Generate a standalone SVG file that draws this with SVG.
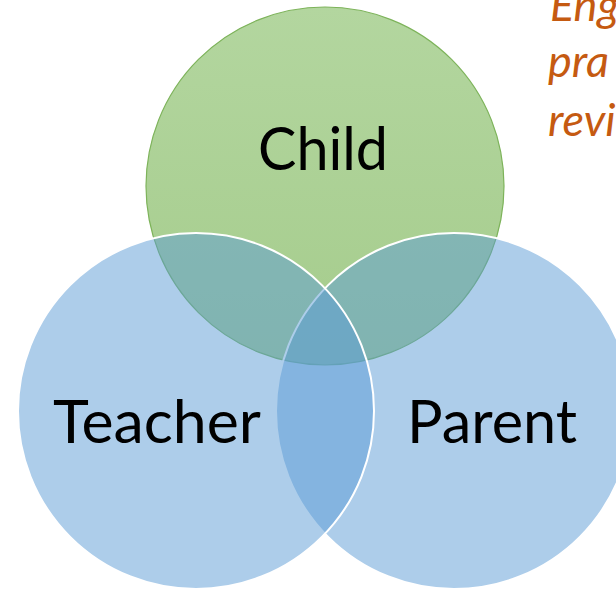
<svg xmlns="http://www.w3.org/2000/svg" width="616" height="594" viewBox="0 0 616 594">
  <style>
    .label { font-family: "Lato", "Liberation Sans", sans-serif; font-size: 60px; fill: #000000; }
    .blue { fill: #5B9BD5; fill-opacity: 0.5; stroke: #FFFFFF; stroke-width: 2; }
    .green { fill: url(#greenGrad); stroke: #7DB35A; stroke-width: 1.2; }
    .note { font-family: "Lato", "Liberation Sans", sans-serif; font-style: italic; font-size: 45px; fill: #C55A11; }
  </style>
  <defs>
    <linearGradient id="greenGrad" x1="0" y1="0" x2="0" y2="1">
      <stop offset="0" stop-color="#B3D69F"/>
      <stop offset="1" stop-color="#A5CC8C"/>
    </linearGradient>
  </defs>
  <rect width="616" height="594" fill="#FFFFFF"/>
  <g id="note">
    <text class="note" x="550" y="21">Eng</text>
    <text class="note" x="548" y="77">pra</text>
    <text class="note" x="548" y="136">revi</text>
  </g>
  <g id="connectors"></g>
  <g id="child">
    <circle class="green" cx="325" cy="186" r="179"/>
    <text class="label" x="258" y="170" textLength="130" lengthAdjust="spacingAndGlyphs">Child</text>
  </g>
  <g id="parent">
    <circle class="blue" cx="454" cy="411" r="178"/>
    <text class="label" x="407" y="443" textLength="170" lengthAdjust="spacingAndGlyphs">Parent</text>
  </g>
  <g id="teacher">
    <circle class="blue" cx="196" cy="411" r="178"/>
    <text class="label" x="53" y="443" textLength="208" lengthAdjust="spacingAndGlyphs">Teacher</text>
  </g>
</svg>
